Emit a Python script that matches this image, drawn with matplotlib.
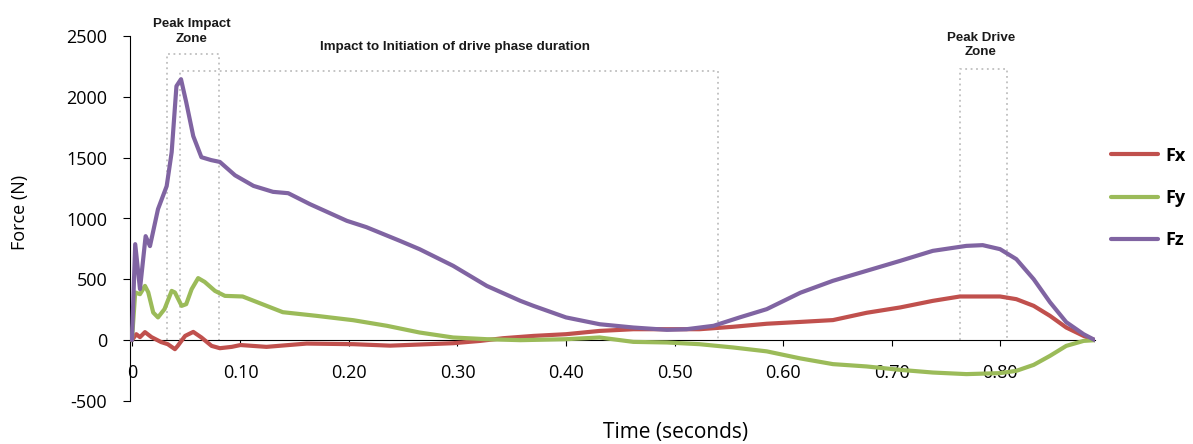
"""Ground reaction force traces (Fx, Fy, Fz) with annotated phase zones."""

import matplotlib
matplotlib.use("Agg")
import matplotlib.pyplot as plt

# Fx (red)
t_fx = [0, 0.004, 0.0074, 0.012, 0.018, 0.027, 0.033, 0.0396, 0.042, 0.049,
        0.0565, 0.064, 0.0734, 0.081, 0.092, 0.100, 0.124, 0.161, 0.204, 0.238,
        0.296, 0.321, 0.342, 0.370, 0.400, 0.431, 0.462, 0.502, 0.523, 0.554,
        0.585, 0.616, 0.646, 0.677, 0.708, 0.738, 0.763, 0.800, 0.815, 0.831,
        0.846, 0.861, 0.877, 0.8875]
fx = [0, 49, 25, 66, 25, -16, -33, -74, -49, 35,
      68, 22, -47, -66, -55, -40, -55, -28, -33, -45,
      -25, -6, 16, 35, 49, 76, 90, 90, 90, 110,
      135, 150, 165, 225, 269, 323, 359, 359, 337, 282,
      200, 104, 35, 0]

# Fy (green)
t_fy = [0, 0.003, 0.0074, 0.012, 0.015, 0.0196, 0.024, 0.030, 0.0366, 0.0396,
        0.0458, 0.050, 0.055, 0.061, 0.067, 0.0765, 0.0857, 0.102, 0.139, 0.170,
        0.204, 0.235, 0.265, 0.296, 0.327, 0.358, 0.400, 0.431, 0.462, 0.493,
        0.523, 0.554, 0.585, 0.616, 0.646, 0.677, 0.708, 0.738, 0.769, 0.800,
        0.815, 0.831, 0.846, 0.861, 0.877, 0.8875]
fy = [0, 392, 378, 446, 394, 227, 187, 255, 405, 392,
      282, 296, 419, 510, 479, 405, 364, 359, 230, 200,
      164, 118, 63, 22, 8, 0, 8, 22, -14, -19,
      -33, -60, -92, -150, -197, -216, -244, -266, -279, -271,
      -252, -203, -129, -47, -6, 0]

# Fz (purple)
t_fz = [0, 0.003, 0.0074, 0.0126, 0.0166, 0.024, 0.032, 0.0366, 0.041, 0.0452,
        0.050, 0.0565, 0.064, 0.073, 0.081, 0.095, 0.112, 0.130, 0.144, 0.164,
        0.198, 0.216, 0.247, 0.265, 0.296, 0.327, 0.358, 0.370, 0.400, 0.431,
        0.462, 0.493, 0.511, 0.536, 0.560, 0.585, 0.616, 0.646, 0.677, 0.708,
        0.738, 0.769, 0.784, 0.800, 0.815, 0.831, 0.846, 0.861, 0.877, 0.8875]
fz = [0, 789, 420, 855, 773, 1077, 1266, 1545, 2088, 2145,
      1956, 1677, 1504, 1480, 1465, 1355, 1268, 1219, 1208, 1118,
      981, 929, 816, 748, 611, 446, 323, 282, 187, 131,
      104, 85, 90, 118, 187, 255, 390, 488, 570, 652,
      734, 775, 781, 748, 666, 501, 312, 148, 49, 0]

series_names = ["Fx", "Fy", "Fz"]
series_colors = ["#C0504D", "#9BBB59", "#8064A2"]

# dotted zone boxes: (t_start, t_end, top)
zones = [(0.0325, 0.0805, 2350), (0.0443, 0.540, 2210), (0.763, 0.806, 2228)]
zone_labels = [("Peak Impact\nZone", 0.0553, 2535),
               ("Impact to Initiation of drive phase duration", 0.2977, 2410),
               ("Peak Drive\nZone", 0.7825, 2427)]

x_ticks = [0, 0.1, 0.2, 0.3, 0.4, 0.5, 0.6, 0.7, 0.8]
x_tick_labels = ["0", "0.10", "0.20", "0.30", "0.40", "0.50", "0.60", "0.70", "0.80"]
y_ticks = [-500, 0, 500, 1000, 1500, 2000, 2500]

plt.rcParams["font.family"] = ["Open Sans", "DejaVu Sans"]
plt.rcParams["axes.unicode_minus"] = False

fig = plt.figure(figsize=(11.93, 4.44), dpi=100)
ax = fig.add_axes([130 / 1193, 43 / 444, 965 / 1193, 365 / 444])

# zone boxes
for t0, t1, top in zones:
    ax.plot([t0, t0, t1, t1], [0, top, top, 0], linestyle=(0, (1, 2)),
            color="#BFBFBF", linewidth=1.3, zorder=1)

for (t, f), name, color in zip([(t_fx, fx), (t_fy, fy), (t_fz, fz)],
                               series_names, series_colors):
    ax.plot(t, f, color=color, linewidth=3, label=name, zorder=3,
            solid_capstyle="round", solid_joinstyle="round")

for text, tx, ty in zone_labels:
    ax.text(tx, ty, text, ha="center", va="center", fontsize=9.6,
            fontweight="bold", family=["Liberation Sans Narrow", "Liberation Sans"],
            color="#1a1a1a", linespacing=1.3, clip_on=False)

ax.set_xlim(-0.0018, 0.8875)
ax.set_ylim(-500, 2500)
ax.set_xticks(x_ticks)
ax.set_xticklabels(x_tick_labels)
ax.set_yticks(y_ticks)

ax.spines["top"].set_visible(False)
ax.spines["right"].set_visible(False)
ax.spines["bottom"].set_position(("data", 0))
ax.tick_params(axis="x", direction="out", length=4.3, pad=12.5, labelsize=13)
ax.tick_params(axis="y", direction="out", length=5, pad=11.5, labelsize=13)

fig.text(676 / 1193, 1 - 432 / 444, "Time (seconds)", ha="center", va="center",
         fontsize=15)
fig.text(20 / 1193, 1 - 212 / 444, "Force (N)", ha="center", va="center",
         rotation=90, fontsize=13)

ax.legend(loc="center left", bbox_to_anchor=(1102 / 1193, 1 - 198 / 444),
          bbox_transform=fig.transFigure, frameon=False, borderpad=0,
          handlelength=2.6, handletextpad=0.4, labelspacing=1.35,
          prop={"size": 13, "weight": "bold"})

plt.savefig("out.png", dpi=100)
plt.close(fig)
